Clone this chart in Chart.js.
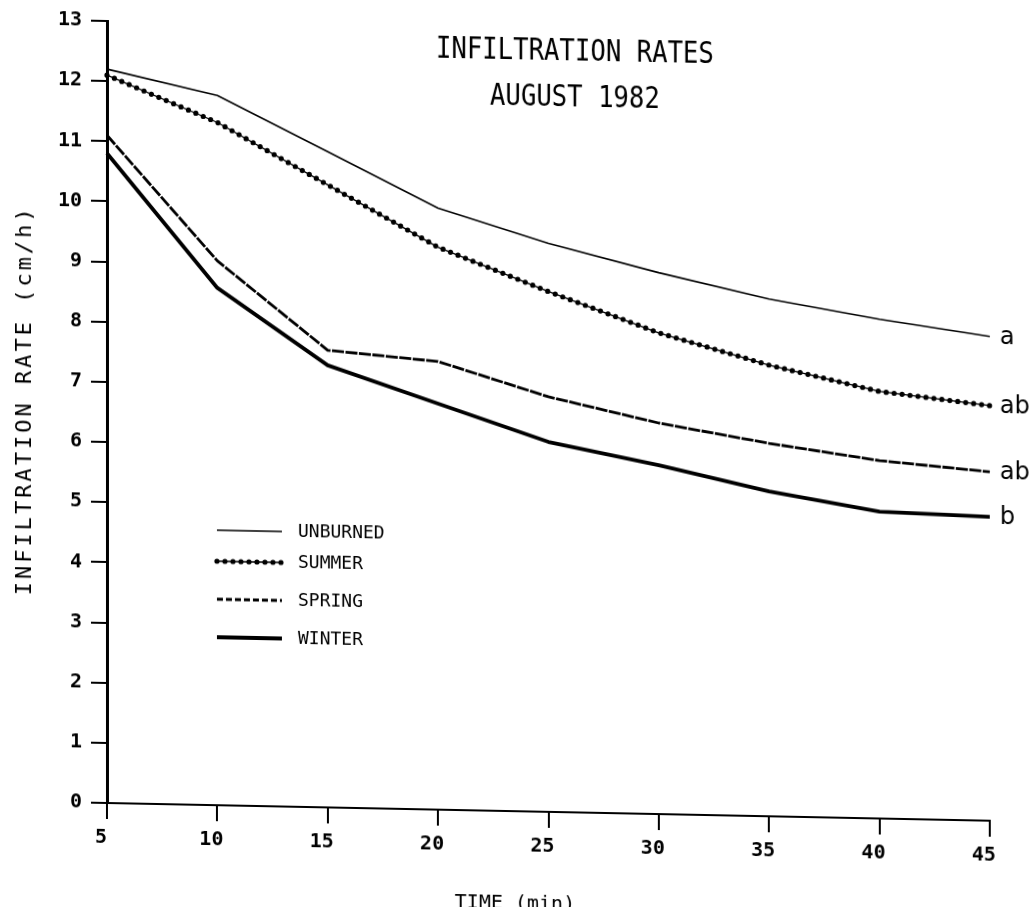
<!DOCTYPE html>
<html><head><meta charset="utf-8">
<script src="https://cdn.jsdelivr.net/npm/chart.js@4.4.1/dist/chart.umd.min.js"></script>
<style>
html,body{margin:0;padding:0;background:#fff;}
#wrap{position:relative;width:1036px;height:907px;overflow:hidden;background:#fff;}
#c{position:absolute;left:0;top:0;transform:skewY(1.15deg);transform-origin:107px 803px;}
</style></head><body>
<div id="wrap"><canvas id="c" width="1036" height="907"></canvas></div>
<script>
// ---- data ----
const timeMin  = [5, 10, 15, 20, 25, 30, 35, 40, 45];
const unburned = [12.2, 11.8, 10.9, 10.0, 9.45, 9.0, 8.6, 8.3, 8.05];
const summer   = [12.1, 11.35, 10.35, 9.35, 8.65, 8.0, 7.5, 7.1, 6.9];
const spring   = [11.1, 9.05, 7.6, 7.45, 6.9, 6.5, 6.2, 5.95, 5.8];
const winter   = [10.8, 8.6, 7.35, 6.75, 6.15, 5.8, 5.4, 5.1, 5.05];
const seriesNames = ['UNBURNED', 'SUMMER', 'SPRING', 'WINTER'];
const endLabels   = ['a', 'ab', 'ab', 'b'];
const titleLines  = ['INFILTRATION RATES', 'AUGUST 1982'];
const yTitle = 'INFILTRATION RATE (cm/h)';
const xTitle = 'TIME (min)';
const yMin = 0, yMax = 13, yStep = 1;
const xMin = 5, xMax = 45, xStep = 5;

const pts = arr => timeMin.map((t, i) => ({x: t, y: arr[i]}));
const MONO = '"DejaVu Sans Mono", "Liberation Mono", monospace';

const datasets = [
  {label: seriesNames[0], series: 0, main: true, data: pts(unburned), borderWidth: 1.6},
  {label: seriesNames[1], series: 1, main: false, data: pts(summer), borderWidth: 1.3},
  {label: seriesNames[1], series: 1, main: true, data: pts(summer), borderWidth: 5.2, borderDash: [0, 8], borderCapStyle: 'round'},
  {label: seriesNames[2], series: 2, main: true, data: pts(spring), borderWidth: 2.8, borderDash: [12, 1.5], legendDash: [6, 3]},
  {label: seriesNames[3], series: 3, main: true, data: pts(winter), borderWidth: 3.8}
].map(d => Object.assign({borderColor: '#000', backgroundColor: '#000', pointRadius: 0, tension: 0, fill: false, clip: false, borderJoinStyle: 'round'}, d));

const annot = {
  id: 'annot',
  afterDatasetsDraw(chart) {
    const ctx = chart.ctx;
    const xs = chart.scales.x, ys = chart.scales.y;
    ctx.save();
    ctx.fillStyle = '#000';
    // titles (plotter-like condensed mono)
    ctx.font = '30px ' + MONO;
    ctx.textAlign = 'center'; ctx.textBaseline = 'middle';
    const tY = [43, 89];
    titleLines.forEach((t, i) => {
      ctx.save();
      ctx.translate(575, tY[i]);
      ctx.scale(0.855, 1);
      ctx.fillText(t, 0, 0);
      ctx.restore();
    });
    // y-axis title
    ctx.save();
    ctx.font = '22px ' + MONO;
    ctx.letterSpacing = '3px';
    ctx.translate(25, 402);
    ctx.rotate(-Math.PI / 2);
    ctx.fillText(yTitle, 0, 0);
    ctx.restore();
    // x-axis title (cut by the lower edge, as in the scan)
    ctx.font = '20px ' + MONO;
    ctx.fillText(xTitle, 515, 896);
    // legend
    const legY = [528, 559, 597, 635];
    ctx.textAlign = 'left';
    ctx.font = '18px ' + MONO;
    seriesNames.forEach((name, s) => {
      chart.data.datasets.forEach(ds => {
        if (ds.series !== s) return;
        ctx.save();
        ctx.strokeStyle = '#000';
        ctx.lineWidth = ds.borderWidth;
        ctx.setLineDash(ds.legendDash || ds.borderDash || []);
        ctx.lineCap = ds.borderCapStyle || 'butt';
        ctx.beginPath();
        ctx.moveTo(217, legY[s]); ctx.lineTo(282, legY[s]);
        ctx.stroke();
        ctx.restore();
      });
      ctx.fillText(name, 298, legY[s]);
    });
    // letters at line ends
    ctx.font = '24px "DejaVu Sans", sans-serif';
    chart.data.datasets.forEach(ds => {
      if (!ds.main) return;
      const last = ds.data[ds.data.length - 1];
      ctx.fillText(endLabels[ds.series], xs.getPixelForValue(last.x) + 10, ys.getPixelForValue(last.y) + 1);
    });
    ctx.restore();
  }
};

new Chart(document.getElementById('c'), {
  type: 'line',
  data: {datasets},
  options: {
    responsive: false,
    animation: false,
    events: [],
    layout: {autoPadding: false, padding: {left: 0, top: 7, right: 46, bottom: 0}},
    plugins: {legend: {display: false}, tooltip: {enabled: false}, title: {display: false}},
    scales: {
      x: {
        type: 'linear', min: xMin, max: xMax,
        afterFit: s => { s.height = 104; },
        ticks: {stepSize: xStep, color: '#000', font: {family: MONO, size: 20, weight: 'bold'}, padding: 7, labelOffset: -6, maxRotation: 0, autoSkip: false},
        grid: {drawOnChartArea: false, drawTicks: true, tickLength: 16, color: '#000', lineWidth: 2},
        border: {display: true, color: '#000', width: 2}
      },
      y: {
        type: 'linear', min: yMin, max: yMax,
        afterFit: s => { s.width = 107; },
        ticks: {stepSize: yStep, color: '#000', font: {family: MONO, size: 20, weight: 'bold'}, padding: 9, autoSkip: false},
        grid: {drawOnChartArea: false, drawTicks: true, tickLength: 16, color: '#000', lineWidth: 2},
        border: {display: true, color: '#000', width: 3}
      }
    }
  },
  plugins: [annot]
});
</script>
</body></html>
